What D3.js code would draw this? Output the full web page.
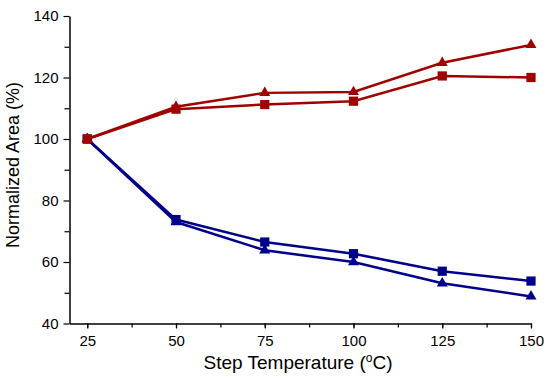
<!DOCTYPE html>
<html>
<head>
<meta charset="UTF-8">
<script src="https://d3js.org/d3.v7.min.js"></script>
<style>
  body { margin: 0; background: #fff; }
  text { font-family: "Liberation Sans", Arial, sans-serif; fill: #000; }
</style>
</head>
<body>
<div id="chart"></div>
<script>
var temps = [25, 50, 75, 100, 125, 150];
var redTriangle = [100, 110.5, 115, 115.3, 124.8, 130.6];
var redSquare   = [100, 109.7, 111.2, 112.3, 120.5, 120];
var blueSquare  = [100, 73.8, 66.5, 62.7, 57, 53.8];
var blueTriangle = [100, 73, 63.8, 60, 53.1, 48.8];
var xLabels = [25, 50, 75, 100, 125, 150];
var yLabels = [40, 60, 80, 100, 120, 140];

var width = 550, height = 380;
var red = "#a00000", blue = "#00008b";

var svg = d3.select("#chart").append("svg")
    .attr("width", width).attr("height", height);

var x = d3.scaleLinear().domain([20, 150]).range([69.5, 531]);
var y = d3.scaleLinear().domain([40, 140]).range([323.5, 16]);

// minor ticks
var xMinor = d3.range(25, 151, 12.5);
svg.append("g")
    .attr("transform", "translate(0," + y(40) + ")")
    .call(d3.axisBottom(x).tickValues(xMinor).tickSize(4).tickFormat(""))
    .call(g => g.select(".domain").remove());
svg.append("g")
    .attr("transform", "translate(" + x(20) + ",0)")
    .call(d3.axisLeft(y).tickValues(d3.range(50, 140, 20)).tickSize(5).tickFormat(""))
    .call(g => g.select(".domain").remove());

var xaxis = svg.append("g")
    .attr("transform", "translate(0," + y(40) + ")")
    .call(d3.axisBottom(x).tickValues(xLabels).tickSize(5).tickPadding(7).tickSizeOuter(0));
xaxis.selectAll("text").style("font-size", "15px");

var yaxis = svg.append("g")
    .attr("transform", "translate(" + x(20) + ",0)")
    .call(d3.axisLeft(y).tickValues(yLabels).tickSize(6).tickPadding(5).tickSizeOuter(0));
yaxis.selectAll("text").style("font-size", "15px");

svg.selectAll(".domain").attr("stroke-width", 1.5);
svg.selectAll(".tick line").attr("stroke-width", 1.2);

// drawn back to front so the red square sits on top at 25 °C
var series = [
    { values: blueTriangle, color: blue, shape: d3.symbolTriangle },
    { values: blueSquare, color: blue, shape: d3.symbolSquare },
    { values: redTriangle, color: red, shape: d3.symbolTriangle },
    { values: redSquare, color: red, shape: d3.symbolSquare }
];

var line = d3.line().x((d, i) => x(temps[i])).y(d => y(d));

series.forEach(function(s) {
    svg.append("path")
        .datum(s.values)
        .attr("fill", "none")
        .attr("stroke", s.color)
        .attr("stroke-width", 2.5)
        .attr("d", line);
    svg.selectAll(null)
        .data(s.values)
        .enter()
        .append("path")
        .attr("transform", (d, i) => "translate(" + x(temps[i]) + "," + y(d) + ")")
        .attr("d", d3.symbol().type(s.shape).size(s.shape === d3.symbolSquare ? 85 : 52))
        .attr("fill", s.color);
});

svg.append("text")
    .attr("x", 298).attr("y", 369)
    .attr("text-anchor", "middle")
    .style("font-size", "19px")
    .html('Step Temperature (<tspan dy="-7" font-size="12px">o</tspan><tspan dy="7">C)</tspan>');

svg.append("text")
    .attr("transform", "translate(19,165) rotate(-90)")
    .attr("text-anchor", "middle")
    .style("font-size", "18px")
    .text("Normalized Area (%)");
</script>
</body>
</html>
